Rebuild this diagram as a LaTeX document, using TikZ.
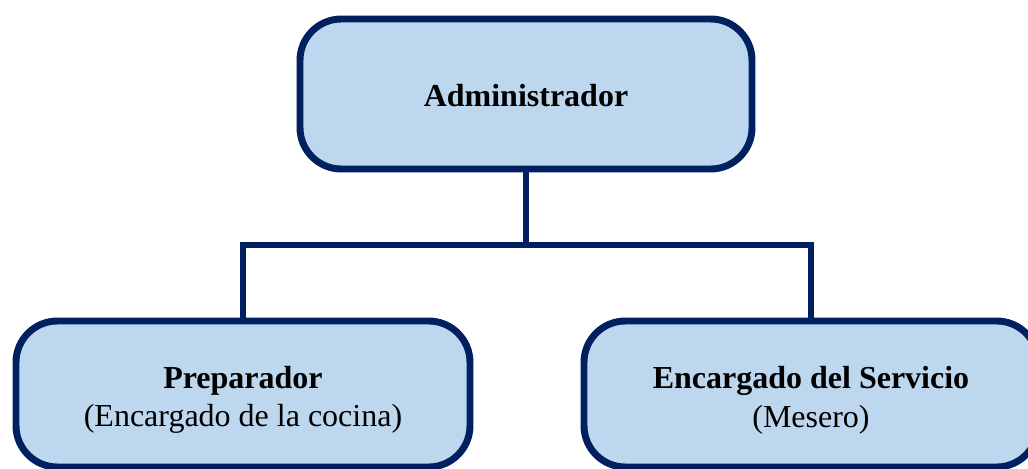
\documentclass[tikz,border=0pt]{standalone}
\usepackage{fontspec}
\setmainfont{Liberation Serif}
\definecolor{boxfill}{HTML}{BDD7EE}
\definecolor{boxline}{HTML}{002060}
\begin{document}
\begin{tikzpicture}[x=0.75pt,y=-0.75pt,
  box/.style={draw=boxline, fill=boxfill, line width=5.2pt, rounded corners=31pt, inner sep=0pt},
  conn/.style={draw=boxline, line width=4.8pt},
  lbl/.style={align=center, font=\fontsize{24}{29}\selectfont, text=black}]
\clip (0,0) rectangle (1028,468);
\fill[white] (0,0) rectangle (1028,468);
% connectors first (behind boxes)
\node[box, minimum width=339pt, minimum height=112.5pt] (admin) at (526,94) {};
\node[box, minimum width=340.5pt, minimum height=109.5pt] (prep) at (243,394) {};
\node[box, minimum width=340.5pt, minimum height=109.5pt] (serv) at (811,394) {};
\coordinate (bus) at (526,245);
\draw[conn] (admin.south) -- (bus);
\draw[conn] (prep.north) |- (bus) -| (serv.north);
\node[lbl] (tadmin) at (526,96) {\bfseries Administrador};
\node[lbl] (tprep) at (243,400) {\bfseries Preparador\\(Encargado de la cocina)};
\node[lbl] (tserv) at (811,400) {\bfseries Encargado del Servicio\\(Mesero)};
\end{tikzpicture}
\end{document}
